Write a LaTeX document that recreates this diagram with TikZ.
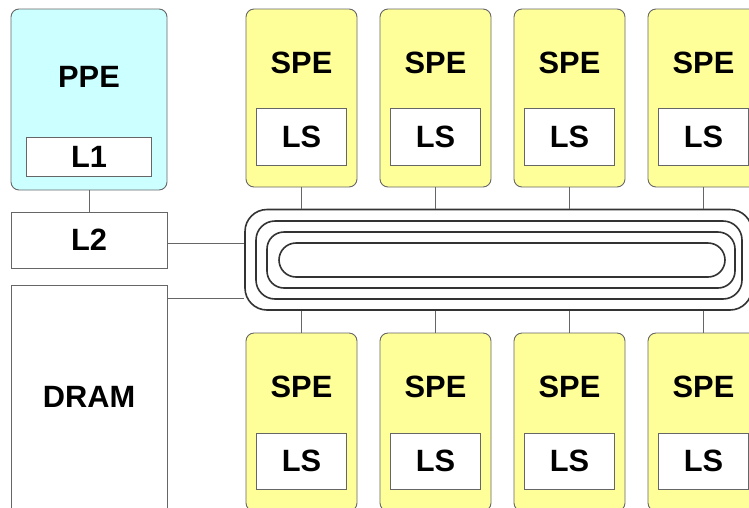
\documentclass[tikz,border=0pt]{standalone}
\usepackage{fontspec}
\setmainfont{Liberation Sans}
\definecolor{ppefill}{HTML}{CCFFFF}
\definecolor{spefill}{HTML}{FFFF99}
\definecolor{boxline}{HTML}{666666}
\definecolor{ringline}{HTML}{333333}
\begin{document}
\begin{tikzpicture}[x=1pt,y=-1pt,
  lbl/.style={font=\fontsize{30.8}{31}\selectfont\bfseries, inner sep=0pt},
  pebox/.style={draw=boxline, line width=0.9pt, rounded corners=8pt, inner sep=0pt},
  plainbox/.style={draw=boxline, line width=0.9pt, fill=white, inner sep=0pt},
  ringbox/.style={draw=ringline, line width=1.6pt, inner sep=0pt},
  conn/.style={draw=boxline, line width=0.9pt}]
\clip (0,0) rectangle (749,507);
\fill[white] (0,0) rectangle (749,507);
% PPE
\node[pebox, fill=ppefill, minimum width=156pt, minimum height=181pt] (ppe) at (89,99.5) {};
\node[lbl] (ppet) at (89,77) {PPE};
\node[plainbox, minimum width=125pt, minimum height=39pt] (l1) at (89,156.5) {};
\node[lbl] (l1t) at (89,156.5) {L1};
% L2 and DRAM
\node[plainbox, minimum width=156pt, minimum height=56pt] (l2) at (89,240) {};
\node[lbl] (l2t) at (89,240) {L2};
\node[plainbox, minimum width=156pt, minimum height=240pt] (dram) at (89,405) {};
\node[lbl] (dramt) at (89,397) {DRAM};
% ring
\node[ringbox, rounded corners=22pt, minimum width=507pt, minimum height=100.5pt] (ring1) at (498.5,259.75) {};
\node[ringbox, rounded corners=19pt, minimum width=486pt, minimum height=78pt] (ring2) at (499,260) {};
\node[ringbox, rounded corners=17pt, minimum width=468pt, minimum height=56pt] (ring3) at (501,260) {};
\node[ringbox, rounded corners=17pt, minimum width=446pt, minimum height=34pt] (ring4) at (502,260) {};
% SPEs
\foreach \i in {0,1,2,3}{
  \pgfmathsetmacro{\cx}{301.5+134*\i}
  \node[pebox, fill=spefill, minimum width=111pt, minimum height=178pt] (st\i) at (\cx,98) {};
  \node[lbl] (stt\i) at (\cx,63) {SPE};
  \node[plainbox, minimum width=90pt, minimum height=57pt] (stl\i) at (\cx,136.5) {};
  \node[lbl] (stlt\i) at (\cx,136.5) {LS};
  \node[pebox, fill=spefill, minimum width=111pt, minimum height=178pt] (sb\i) at (\cx,422) {};
  \node[lbl] (sbt\i) at (\cx,387) {SPE};
  \node[plainbox, minimum width=90pt, minimum height=56pt] (sbl\i) at (\cx,461) {};
  \node[lbl] (sblt\i) at (\cx,461) {LS};
  \draw[conn] (st\i.south) -- (st\i.south |- ring1.north);
  \draw[conn] (sb\i.north) -- (sb\i.north |- ring1.south);
}
% connectors
\draw[conn] (ppe.south) -- (l2.north);
\draw[conn] ([yshift=-3pt]l2.east) -- ([yshift=-3pt]l2.east -| ring1.west);
\draw[conn] ([yshift=-14pt]dram.north east) -- ([yshift=-14pt]dram.north east -| ring1.west);
\end{tikzpicture}
\end{document}
